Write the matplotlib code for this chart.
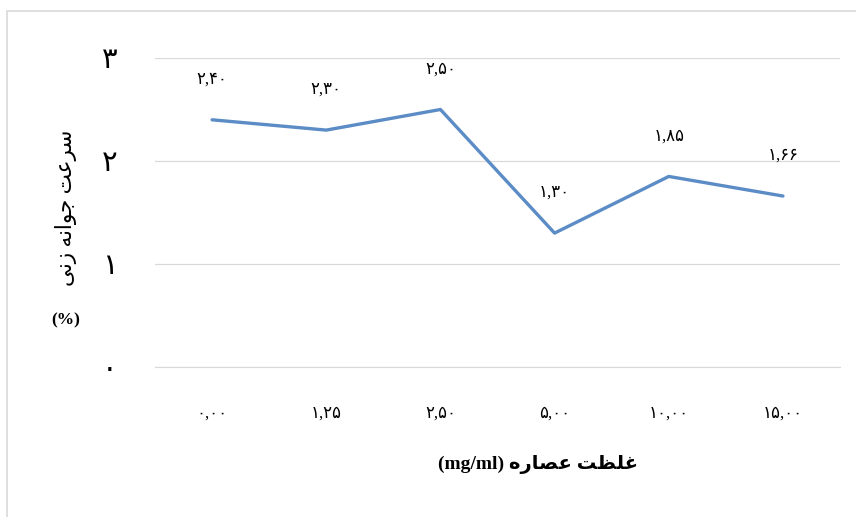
import matplotlib
matplotlib.use("Agg")
import matplotlib.pyplot as plt
from matplotlib.patches import Rectangle

# Extract concentration (mg/ml) and germination rate (%)
concentrations = [0.00, 1.25, 2.50, 5.00, 10.00, 15.00]
germination_rate = [2.40, 2.30, 2.50, 1.30, 1.85, 1.66]
y_ticks = [0, 1, 2, 3]

FA_DIGITS = str.maketrans("0123456789", "۰۱۲۳۴۵۶۷۸۹")


def fa_num(v, nd=2):
    s = f"{v:.{nd}f}" if nd else f"{v:d}"
    return s.replace(".", ",").translate(FA_DIGITS)


# Persian titles in Arabic presentation forms, laid out in visual order
# (matplotlib does not shape or reorder right-to-left text itself)
x_title = "(mg/ml) \uFEE9\uFEAD\uFE8E\uFEBC\uFECB \uFE96\uFEC8\uFEE0\uFECF"
y_title = "\uFEF0\uFEE7\uFEAF \uFEEA\uFEE7\uFE8D\uFEEE\uFE9F \uFE96\uFECB\uFEAE\uFEB3"

plt.rcParams["font.family"] = ["Liberation Serif", "DejaVu Sans"]

W, H = 856, 517
fig = plt.figure(figsize=(W / 100, H / 100), dpi=100)

# light frame around the chart
fig.patches.append(Rectangle((7 / W, -0.05), 1.2, 1 - 11 / H + 0.05,
                             transform=fig.transFigure, fill=False,
                             edgecolor="#D9D9D9", linewidth=1.2))

ax = fig.add_axes([155 / W, 1 - 367 / H, 685 / W, 309 / H])
xs = list(range(len(concentrations)))
ax.plot(xs, germination_rate, color="#5B8CC6", linewidth=2.4,
        solid_joinstyle="round", solid_capstyle="round")

ax.set_xlim(-0.5, len(xs) - 0.5)
ax.set_ylim(0, 3)
ax.set_yticks(y_ticks)
ax.set_yticklabels([fa_num(v, 0) for v in y_ticks], fontsize=21)
ax.set_xticks(xs)
ax.set_xticklabels([fa_num(c) for c in concentrations], fontsize=12)
ax.grid(axis="y", color="#D9D9D9", linewidth=0.9)
ax.set_axisbelow(True)
for side in ("top", "right", "left"):
    ax.spines[side].set_visible(False)
ax.spines["bottom"].set_color("#D9D9D9")
ax.tick_params(axis="both", length=0)
ax.tick_params(axis="y", pad=27)
ax.tick_params(axis="x", pad=28)

for xi, v in zip(xs, germination_rate):
    ax.annotate(fa_num(v), (xi, v), xytext=(0, 29), textcoords="offset points",
                ha="center", va="center", fontsize=12)

fig.text(66 / W, 1 - 208 / H, y_title, rotation=90, ha="center", va="center",
         fontsize=15.5)
fig.text(66 / W, 1 - 320 / H, "(%)", ha="center", va="center",
         fontsize=12.5, fontweight="bold")
fig.text(538 / W, 1 - 465 / H, x_title, ha="center", va="center",
         fontsize=14, fontweight="bold")

fig.savefig("out.png", dpi=100)
